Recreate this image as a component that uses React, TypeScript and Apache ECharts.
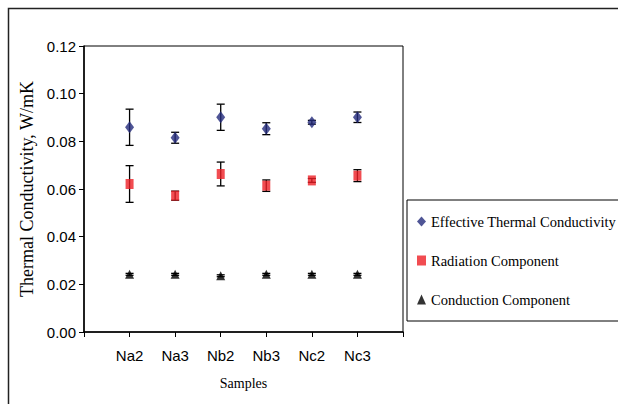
import React, { useEffect, useRef } from "react";
import * as echarts from "echarts";

const categories = ["Na2", "Na3", "Nb2", "Nb3", "Nc2", "Nc3"];
const yTicks = ["0.00", "0.02", "0.04", "0.06", "0.08", "0.10", "0.12"];
const effective = [0.0859, 0.0815, 0.0901, 0.0853, 0.088, 0.0901];
const effectiveErr = [0.0076, 0.0023, 0.0055, 0.0025, 0.0008, 0.0022];
const radiation = [0.0621, 0.0572, 0.0663, 0.0614, 0.0636, 0.0656];
const radiationErr = [0.0077, 0.0019, 0.005, 0.0024, 0.0008, 0.0025];
const conduction = [0.0242, 0.0242, 0.0236, 0.0242, 0.0242, 0.0242];
const conductionErr = [0.0004, 0.0004, 0.0004, 0.0004, 0.0004, 0.0004];

const seriesNames = [
  "Effective Thermal Conductivity",
  "Radiation Component",
  "Conduction Component",
];

const axisCats = ["", ...categories, ""];

function pts(vals: number[]) {
  return vals.map((v, i) => [i + 1, v]);
}
function errs(vals: number[], e: number[]) {
  return vals.map((v, i) => [i + 1, v - e[i], v + e[i]]);
}

function errorSeries(data: number[][]) {
  return {
    type: "custom",
    z: 2,
    silent: true,
    data,
    renderItem: (params: any, api: any) => {
      const x = api.value(0);
      const lo = api.coord([x, api.value(1)]);
      const hi = api.coord([x, api.value(2)]);
      const hw = 4;
      const style = { stroke: "#000", lineWidth: 1.3 };
      return {
        type: "group",
        children: [
          { type: "line", shape: { x1: hi[0], y1: hi[1], x2: lo[0], y2: lo[1] }, style },
          { type: "line", shape: { x1: hi[0] - hw, y1: hi[1], x2: hi[0] + hw, y2: hi[1] }, style },
          { type: "line", shape: { x1: lo[0] - hw, y1: lo[1], x2: lo[0] + hw, y2: lo[1] }, style },
        ],
      };
    },
  };
}

export default function App() {
  const ref = useRef<HTMLDivElement>(null);
  useEffect(() => {
    if (!ref.current) return;
    const chart = echarts.init(ref.current, null, { renderer: "svg" });
    const tickFont = { fontFamily: "Liberation Sans, Arial", fontSize: 15, color: "#000" };
    const serif = "Liberation Serif, Times New Roman";
    chart.setOption({
      animation: false,
      backgroundColor: "#fff",
      graphic: [
        {
          type: "rect",
          z: -10,
          shape: { x: 8.5, y: 8.5, width: 800, height: 800 },
          style: { fill: "none", stroke: "#222", lineWidth: 1.5 },
        },
      ],
      grid: {
        left: 84,
        top: 46,
        right: 215,
        bottom: 72,
        show: true,
        borderColor: "#000",
        borderWidth: 1,
        backgroundColor: "transparent",
      },
      legend: {
        orient: "vertical",
        left: 407,
        top: 200,
        data: [
          { name: seriesNames[0], icon: "diamond" },
          { name: seriesNames[1], icon: "rect" },
          { name: seriesNames[2], icon: "triangle" },
        ],
        itemWidth: 9,
        itemHeight: 10,
        itemGap: 24,
        padding: [14, 40, 14, 10],
        borderColor: "#000",
        borderWidth: 1,
        textStyle: { fontFamily: serif, fontSize: 14.5, color: "#000" },
        selectedMode: false,
      },
      xAxis: {
        type: "category",
        data: axisCats,
        boundaryGap: false,
        name: "Samples",
        nameLocation: "middle",
        nameGap: 44,
        nameTextStyle: { fontFamily: serif, fontSize: 14, color: "#000" },
        axisLine: { lineStyle: { color: "#000", width: 1.5 } },
        axisTick: { show: true, length: 5, lineStyle: { color: "#000" }, interval: 0 },
        axisLabel: { ...tickFont, margin: 16, interval: 0 },
        splitLine: { show: false },
      },
      yAxis: {
        type: "value",
        min: 0,
        max: 0.12,
        interval: 0.02,
        name: "Thermal Conductivity, W/mK",
        nameLocation: "middle",
        nameGap: 42,
        nameTextStyle: { fontFamily: serif, fontSize: 18, color: "#000" },
        axisLine: { show: true, lineStyle: { color: "#000", width: 1.5 } },
        axisTick: { show: true, length: 5, lineStyle: { color: "#000" } },
        axisLabel: {
          ...tickFont,
          margin: 8,
          formatter: (v: number) => yTicks[Math.round(v / 0.02)],
        },
        splitLine: { show: false },
      },
      series: [
        errorSeries(errs(effective, effectiveErr)),
        errorSeries(errs(radiation, radiationErr)),
        errorSeries(errs(conduction, conductionErr)),
        {
          name: seriesNames[0],
          type: "scatter",
          z: 5,
          symbol: "diamond",
          symbolSize: [9, 12],
          itemStyle: { color: "#232a7c" },
          data: pts(effective),
        },
        {
          name: seriesNames[1],
          type: "scatter",
          z: 5,
          symbol: "rect",
          symbolSize: [8, 10],
          itemStyle: { color: "#ee1f26" },
          data: pts(radiation),
        },
        {
          name: seriesNames[2],
          type: "scatter",
          z: 5,
          symbol: "triangle",
          symbolSize: [9, 9],
          itemStyle: { color: "#000" },
          data: pts(conduction),
        },
      ],
    });
    return () => chart.dispose();
  }, []);
  return (
    <div
      ref={ref}
      style={{ position: "fixed", left: 0, top: 0, width: 618, height: 404 }}
    />
  );
}
